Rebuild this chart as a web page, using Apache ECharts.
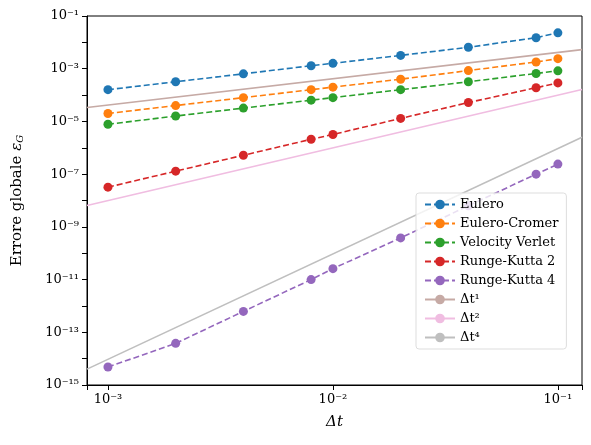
<!DOCTYPE html>
<html><head><meta charset="utf-8">
<script src="https://cdn.jsdelivr.net/npm/echarts@6/dist/echarts.min.js"></script>
<style>html,body{margin:0;padding:0;background:#fff}#c{width:591px;height:445px}</style>
</head><body><div id="c"></div>
<script>
const dt = [0.001,0.002,0.004,0.008,0.01,0.02,0.04,0.08,0.1];
const eulero = [1.6e-4,3.2e-4,6.4e-4,1.3e-3,1.6e-3,3.2e-3,6.5e-3,1.5e-2,2.3e-2];
const euleroCromer = [2e-5,4e-5,8e-5,1.6e-4,2e-4,4e-4,8.5e-4,1.8e-3,2.4e-3];
const verlet = [7.8e-6,1.6e-5,3.2e-5,6.4e-5,8e-5,1.6e-4,3.2e-4,6.6e-4,8.3e-4];
const rk2 = [3.2e-8,1.3e-7,5.2e-7,2.1e-6,3.2e-6,1.3e-5,5.2e-5,1.9e-4,2.9e-4];
const rk4 = [4.8e-15,3.8e-14,6.2e-13,1e-11,2.6e-11,3.8e-10,6.3e-9,1e-7,2.4e-7];
const refX = [8.07e-4,0.128];
const ref1 = [3.4e-5,5.3e-3];
const ref2 = [6.5e-9,1.64e-4];
const ref4 = [4.0e-15,2.5e-6];
const xMin = 8.07e-4, xMax = 0.128, yMin = 1e-15, yMax = 0.1;

const sup = {'-':'⁻','0':'⁰','1':'¹','2':'²','3':'³','4':'⁴','5':'⁵','6':'⁶','7':'⁷','8':'⁸','9':'⁹'};
function fmt(v, oddOnly){
  const e = Math.log10(v); const r = Math.round(e);
  if (Math.abs(e-r)>1e-6) return '';
  if (oddOnly && Math.abs(r)%2!==1) return '';
  return '10' + String(r).split('').map(c=>sup[c]).join('');
}
const font = 'DejaVu Serif';
function dataSeries(name,vals,color){
  return {name,type:'line',data:dt.map((x,i)=>[x,vals[i]]),symbol:'circle',symbolSize:9,
    lineStyle:{color,width:1.6,type:[6,3]},itemStyle:{color},z:3};
}
function refSeries(name,vals,color){
  return {name,type:'line',data:refX.map((x,i)=>[x,vals[i]]),symbol:'none',
    lineStyle:{color,width:1.6},itemStyle:{color},z:2};
}
const chart = echarts.init(document.getElementById('c'));
chart.setOption({
  animation:false,
  textStyle:{fontFamily:font},
  grid:{left:87,right:9,top:16,bottom:60,show:true,borderColor:'#000',borderWidth:1},
  xAxis:{type:'log',logBase:10,min:xMin,max:xMax,
    name:'Δt',nameLocation:'middle',nameGap:30,nameTextStyle:{fontSize:15,fontStyle:'italic',color:'#000',fontFamily:font},
    axisLine:{lineStyle:{color:'#000'}},axisTick:{show:true,lineStyle:{color:'#000'}},
    axisLabel:{formatter:v=>fmt(v,false),fontSize:13,color:'#000'},
    splitLine:{show:false}},
  yAxis:{type:'log',logBase:10,min:yMin,max:yMax,interval:1,
    name:'Errore globale {e|ε}{s|G}',nameLocation:'middle',nameGap:62,
    nameTextStyle:{fontSize:15,color:'#000',fontFamily:font,
      rich:{e:{fontSize:15,fontStyle:'italic',fontFamily:font,color:'#000'},s:{fontSize:10,fontStyle:'italic',fontFamily:font,color:'#000',verticalAlign:'bottom',padding:[0,0,0,0]}}},
    axisLine:{show:true,lineStyle:{color:'#000'}},axisTick:{show:true,lineStyle:{color:'#000'}},
    axisLabel:{formatter:v=>fmt(v,true),fontSize:13,color:'#000'},
    splitLine:{show:false}},
  legend:{orient:'vertical',left:416,top:193,itemGap:6,itemWidth:30,itemHeight:12,
    backgroundColor:'rgba(255,255,255,0.8)',borderColor:'#ddd',borderWidth:1,borderRadius:3,padding:[5,8],
    textStyle:{fontSize:13,color:'#000',fontFamily:font},
    data:['Eulero','Eulero-Cromer','Velocity Verlet','Runge-Kutta 2','Runge-Kutta 4','Δt¹','Δt²','Δt⁴']},
  series:[
    dataSeries('Eulero',eulero,'#1f77b4'),
    dataSeries('Eulero-Cromer',euleroCromer,'#ff7f0e'),
    dataSeries('Velocity Verlet',verlet,'#2ca02c'),
    dataSeries('Runge-Kutta 2',rk2,'#d62728'),
    dataSeries('Runge-Kutta 4',rk4,'#9467bd'),
    refSeries('Δt¹',ref1,'#c6aaa5'),
    refSeries('Δt²',ref2,'#f0bde1'),
    refSeries('Δt⁴',ref4,'#bfbfbf')
  ]
});
</script></body></html>
